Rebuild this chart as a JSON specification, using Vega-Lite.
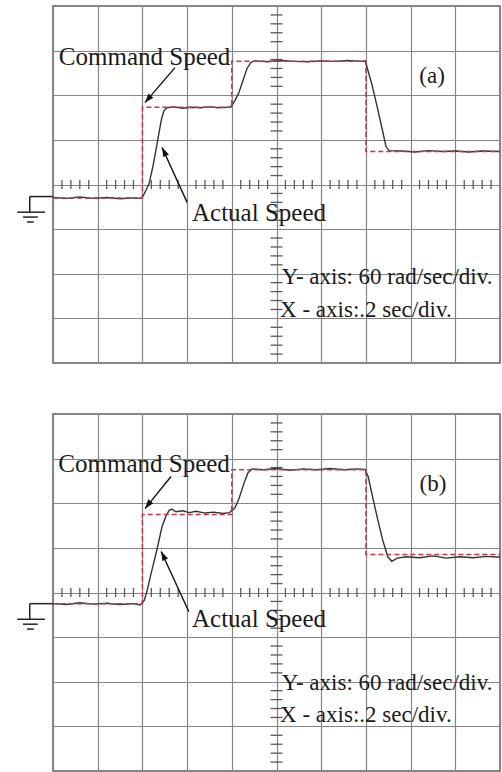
{
  "$schema": "https://vega.github.io/schema/vega-lite/v6.json",
  "background": "white",
  "padding": {"left": 15, "top": 5, "right": 4, "bottom": 1},
  "spacing": 51,
  "bounds": "flush",
  "config": {
    "view": {"stroke": "#5e5e5e", "strokeWidth": 1.5},
    "axis": {"labels": false, "ticks": false, "domain": false, "title": null, "grid": true, "gridColor": "#858585", "gridWidth": 1.2, "gridOpacity": 1}
  },
  "datasets": {
    "traces": [
      {"panel": "a", "series": "Command", "i": 0, "t": 0, "v": -0.3},
      {"panel": "a", "series": "Command", "i": 1, "t": 2, "v": -0.3},
      {"panel": "a", "series": "Command", "i": 2, "t": 2, "v": 1.73},
      {"panel": "a", "series": "Command", "i": 3, "t": 4, "v": 1.73},
      {"panel": "a", "series": "Command", "i": 4, "t": 4, "v": 2.76},
      {"panel": "a", "series": "Command", "i": 5, "t": 7, "v": 2.76},
      {"panel": "a", "series": "Command", "i": 6, "t": 7, "v": 0.74},
      {"panel": "a", "series": "Command", "i": 7, "t": 10, "v": 0.74},

      {"panel": "a", "series": "Actual", "i": 0, "t": 0, "v": -0.29},
      {"panel": "a", "series": "Actual", "i": 1, "t": 0.3, "v": -0.31},
      {"panel": "a", "series": "Actual", "i": 2, "t": 0.6, "v": -0.28},
      {"panel": "a", "series": "Actual", "i": 3, "t": 0.9, "v": -0.31},
      {"panel": "a", "series": "Actual", "i": 4, "t": 1.2, "v": -0.29},
      {"panel": "a", "series": "Actual", "i": 5, "t": 1.5, "v": -0.32},
      {"panel": "a", "series": "Actual", "i": 6, "t": 1.8, "v": -0.3},
      {"panel": "a", "series": "Actual", "i": 7, "t": 1.95, "v": -0.31},
      {"panel": "a", "series": "Actual", "i": 8, "t": 2.01, "v": -0.27},
      {"panel": "a", "series": "Actual", "i": 9, "t": 2.08, "v": -0.13},
      {"panel": "a", "series": "Actual", "i": 10, "t": 2.15, "v": 0.02},
      {"panel": "a", "series": "Actual", "i": 11, "t": 2.24, "v": 0.43},
      {"panel": "a", "series": "Actual", "i": 12, "t": 2.33, "v": 0.92},
      {"panel": "a", "series": "Actual", "i": 13, "t": 2.42, "v": 1.43},
      {"panel": "a", "series": "Actual", "i": 14, "t": 2.48, "v": 1.65},
      {"panel": "a", "series": "Actual", "i": 15, "t": 2.55, "v": 1.72},
      {"panel": "a", "series": "Actual", "i": 16, "t": 2.7, "v": 1.74},
      {"panel": "a", "series": "Actual", "i": 17, "t": 2.9, "v": 1.71},
      {"panel": "a", "series": "Actual", "i": 18, "t": 3.1, "v": 1.73},
      {"panel": "a", "series": "Actual", "i": 19, "t": 3.3, "v": 1.72},
      {"panel": "a", "series": "Actual", "i": 20, "t": 3.5, "v": 1.74},
      {"panel": "a", "series": "Actual", "i": 21, "t": 3.7, "v": 1.72},
      {"panel": "a", "series": "Actual", "i": 22, "t": 3.9, "v": 1.73},
      {"panel": "a", "series": "Actual", "i": 23, "t": 3.98, "v": 1.74},
      {"panel": "a", "series": "Actual", "i": 24, "t": 4.07, "v": 1.88},
      {"panel": "a", "series": "Actual", "i": 25, "t": 4.16, "v": 2.06},
      {"panel": "a", "series": "Actual", "i": 26, "t": 4.25, "v": 2.33},
      {"panel": "a", "series": "Actual", "i": 27, "t": 4.34, "v": 2.6},
      {"panel": "a", "series": "Actual", "i": 28, "t": 4.43, "v": 2.74},
      {"panel": "a", "series": "Actual", "i": 29, "t": 4.52, "v": 2.77},
      {"panel": "a", "series": "Actual", "i": 30, "t": 4.8, "v": 2.75},
      {"panel": "a", "series": "Actual", "i": 31, "t": 5.1, "v": 2.78},
      {"panel": "a", "series": "Actual", "i": 32, "t": 5.4, "v": 2.76},
      {"panel": "a", "series": "Actual", "i": 33, "t": 5.7, "v": 2.75},
      {"panel": "a", "series": "Actual", "i": 34, "t": 6.0, "v": 2.77},
      {"panel": "a", "series": "Actual", "i": 35, "t": 6.3, "v": 2.76},
      {"panel": "a", "series": "Actual", "i": 36, "t": 6.6, "v": 2.78},
      {"panel": "a", "series": "Actual", "i": 37, "t": 6.9, "v": 2.76},
      {"panel": "a", "series": "Actual", "i": 38, "t": 6.98, "v": 2.77},
      {"panel": "a", "series": "Actual", "i": 39, "t": 7.02, "v": 2.65},
      {"panel": "a", "series": "Actual", "i": 40, "t": 7.14, "v": 2.22},
      {"panel": "a", "series": "Actual", "i": 41, "t": 7.25, "v": 1.75},
      {"panel": "a", "series": "Actual", "i": 42, "t": 7.36, "v": 1.26},
      {"panel": "a", "series": "Actual", "i": 43, "t": 7.45, "v": 0.85},
      {"panel": "a", "series": "Actual", "i": 44, "t": 7.52, "v": 0.76},
      {"panel": "a", "series": "Actual", "i": 45, "t": 7.8, "v": 0.75},
      {"panel": "a", "series": "Actual", "i": 46, "t": 8.1, "v": 0.73},
      {"panel": "a", "series": "Actual", "i": 47, "t": 8.4, "v": 0.76},
      {"panel": "a", "series": "Actual", "i": 48, "t": 8.7, "v": 0.74},
      {"panel": "a", "series": "Actual", "i": 49, "t": 9.0, "v": 0.75},
      {"panel": "a", "series": "Actual", "i": 50, "t": 9.3, "v": 0.73},
      {"panel": "a", "series": "Actual", "i": 51, "t": 9.6, "v": 0.75},
      {"panel": "a", "series": "Actual", "i": 52, "t": 10, "v": 0.74},

      {"panel": "b", "series": "Command", "i": 0, "t": 0, "v": -0.25},
      {"panel": "b", "series": "Command", "i": 1, "t": 2, "v": -0.25},
      {"panel": "b", "series": "Command", "i": 2, "t": 2, "v": 1.75},
      {"panel": "b", "series": "Command", "i": 3, "t": 4, "v": 1.75},
      {"panel": "b", "series": "Command", "i": 4, "t": 4, "v": 2.75},
      {"panel": "b", "series": "Command", "i": 5, "t": 7, "v": 2.75},
      {"panel": "b", "series": "Command", "i": 6, "t": 7, "v": 0.85},
      {"panel": "b", "series": "Command", "i": 7, "t": 10, "v": 0.85},

      {"panel": "b", "series": "Actual", "i": 0, "t": 0, "v": -0.25},
      {"panel": "b", "series": "Actual", "i": 1, "t": 0.3, "v": -0.27},
      {"panel": "b", "series": "Actual", "i": 2, "t": 0.6, "v": -0.23},
      {"panel": "b", "series": "Actual", "i": 3, "t": 0.9, "v": -0.26},
      {"panel": "b", "series": "Actual", "i": 4, "t": 1.2, "v": -0.24},
      {"panel": "b", "series": "Actual", "i": 5, "t": 1.5, "v": -0.27},
      {"panel": "b", "series": "Actual", "i": 6, "t": 1.8, "v": -0.25},
      {"panel": "b", "series": "Actual", "i": 7, "t": 1.95, "v": -0.28},
      {"panel": "b", "series": "Actual", "i": 8, "t": 2.04, "v": -0.18},
      {"panel": "b", "series": "Actual", "i": 9, "t": 2.1, "v": 0.02},
      {"panel": "b", "series": "Actual", "i": 10, "t": 2.21, "v": 0.49},
      {"panel": "b", "series": "Actual", "i": 11, "t": 2.33, "v": 0.98},
      {"panel": "b", "series": "Actual", "i": 12, "t": 2.44, "v": 1.48},
      {"panel": "b", "series": "Actual", "i": 13, "t": 2.53, "v": 1.72},
      {"panel": "b", "series": "Actual", "i": 14, "t": 2.6, "v": 1.84},
      {"panel": "b", "series": "Actual", "i": 15, "t": 2.66, "v": 1.87},
      {"panel": "b", "series": "Actual", "i": 16, "t": 2.75, "v": 1.81},
      {"panel": "b", "series": "Actual", "i": 17, "t": 2.9, "v": 1.83},
      {"panel": "b", "series": "Actual", "i": 18, "t": 3.05, "v": 1.79},
      {"panel": "b", "series": "Actual", "i": 19, "t": 3.2, "v": 1.82},
      {"panel": "b", "series": "Actual", "i": 20, "t": 3.4, "v": 1.78},
      {"panel": "b", "series": "Actual", "i": 21, "t": 3.6, "v": 1.8},
      {"panel": "b", "series": "Actual", "i": 22, "t": 3.8, "v": 1.77},
      {"panel": "b", "series": "Actual", "i": 23, "t": 3.95, "v": 1.79},
      {"panel": "b", "series": "Actual", "i": 24, "t": 4.07, "v": 1.9},
      {"panel": "b", "series": "Actual", "i": 25, "t": 4.16, "v": 2.1},
      {"panel": "b", "series": "Actual", "i": 26, "t": 4.27, "v": 2.44},
      {"panel": "b", "series": "Actual", "i": 27, "t": 4.36, "v": 2.68},
      {"panel": "b", "series": "Actual", "i": 28, "t": 4.45, "v": 2.77},
      {"panel": "b", "series": "Actual", "i": 29, "t": 4.7, "v": 2.75},
      {"panel": "b", "series": "Actual", "i": 30, "t": 5.0, "v": 2.78},
      {"panel": "b", "series": "Actual", "i": 31, "t": 5.3, "v": 2.74},
      {"panel": "b", "series": "Actual", "i": 32, "t": 5.6, "v": 2.77},
      {"panel": "b", "series": "Actual", "i": 33, "t": 5.9, "v": 2.75},
      {"panel": "b", "series": "Actual", "i": 34, "t": 6.2, "v": 2.78},
      {"panel": "b", "series": "Actual", "i": 35, "t": 6.5, "v": 2.75},
      {"panel": "b", "series": "Actual", "i": 36, "t": 6.8, "v": 2.77},
      {"panel": "b", "series": "Actual", "i": 37, "t": 6.98, "v": 2.76},
      {"panel": "b", "series": "Actual", "i": 38, "t": 7.05, "v": 2.6},
      {"panel": "b", "series": "Actual", "i": 39, "t": 7.16, "v": 2.1},
      {"panel": "b", "series": "Actual", "i": 40, "t": 7.27, "v": 1.61},
      {"panel": "b", "series": "Actual", "i": 41, "t": 7.38, "v": 1.16},
      {"panel": "b", "series": "Actual", "i": 42, "t": 7.49, "v": 0.8},
      {"panel": "b", "series": "Actual", "i": 43, "t": 7.58, "v": 0.7},
      {"panel": "b", "series": "Actual", "i": 44, "t": 7.7, "v": 0.77},
      {"panel": "b", "series": "Actual", "i": 45, "t": 7.9, "v": 0.8},
      {"panel": "b", "series": "Actual", "i": 46, "t": 8.2, "v": 0.78},
      {"panel": "b", "series": "Actual", "i": 47, "t": 8.5, "v": 0.82},
      {"panel": "b", "series": "Actual", "i": 48, "t": 8.8, "v": 0.77},
      {"panel": "b", "series": "Actual", "i": 49, "t": 9.1, "v": 0.8},
      {"panel": "b", "series": "Actual", "i": 50, "t": 9.4, "v": 0.78},
      {"panel": "b", "series": "Actual", "i": 51, "t": 9.7, "v": 0.81},
      {"panel": "b", "series": "Actual", "i": 52, "t": 10, "v": 0.79}
    ],
    "minor_x": [
      {"t": 0.2, "v": 0}, {"t": 0.4, "v": 0}, {"t": 0.6, "v": 0}, {"t": 0.8, "v": 0},
      {"t": 1.2, "v": 0}, {"t": 1.4, "v": 0}, {"t": 1.6, "v": 0}, {"t": 1.8, "v": 0},
      {"t": 2.2, "v": 0}, {"t": 2.4, "v": 0}, {"t": 2.6, "v": 0}, {"t": 2.8, "v": 0},
      {"t": 3.2, "v": 0}, {"t": 3.4, "v": 0}, {"t": 3.6, "v": 0}, {"t": 3.8, "v": 0},
      {"t": 4.2, "v": 0}, {"t": 4.4, "v": 0}, {"t": 4.6, "v": 0}, {"t": 4.8, "v": 0},
      {"t": 5.2, "v": 0}, {"t": 5.4, "v": 0}, {"t": 5.6, "v": 0}, {"t": 5.8, "v": 0},
      {"t": 6.2, "v": 0}, {"t": 6.4, "v": 0}, {"t": 6.6, "v": 0}, {"t": 6.8, "v": 0},
      {"t": 7.2, "v": 0}, {"t": 7.4, "v": 0}, {"t": 7.6, "v": 0}, {"t": 7.8, "v": 0},
      {"t": 8.2, "v": 0}, {"t": 8.4, "v": 0}, {"t": 8.6, "v": 0}, {"t": 8.8, "v": 0},
      {"t": 9.2, "v": 0}, {"t": 9.4, "v": 0}, {"t": 9.6, "v": 0}, {"t": 9.8, "v": 0}
    ],
    "minor_y": [
      {"t": 5, "v": -3.8}, {"t": 5, "v": -3.6}, {"t": 5, "v": -3.4}, {"t": 5, "v": -3.2},
      {"t": 5, "v": -2.8}, {"t": 5, "v": -2.6}, {"t": 5, "v": -2.4}, {"t": 5, "v": -2.2},
      {"t": 5, "v": -1.8}, {"t": 5, "v": -1.6}, {"t": 5, "v": -1.4}, {"t": 5, "v": -1.2},
      {"t": 5, "v": -0.8}, {"t": 5, "v": -0.6}, {"t": 5, "v": -0.4}, {"t": 5, "v": -0.2},
      {"t": 5, "v": 0.2}, {"t": 5, "v": 0.4}, {"t": 5, "v": 0.6}, {"t": 5, "v": 0.8},
      {"t": 5, "v": 1.2}, {"t": 5, "v": 1.4}, {"t": 5, "v": 1.6}, {"t": 5, "v": 1.8},
      {"t": 5, "v": 2.2}, {"t": 5, "v": 2.4}, {"t": 5, "v": 2.6}, {"t": 5, "v": 2.8},
      {"t": 5, "v": 3.2}, {"t": 5, "v": 3.4}, {"t": 5, "v": 3.6}, {"t": 5, "v": 3.8}
    ],
    "labels": [
      {"panel": "a", "kind": "name", "text": "Command Speed", "t": 0.13, "v": 2.67},
      {"panel": "a", "kind": "name", "text": "Actual Speed", "t": 3.11, "v": -0.81},
      {"panel": "a", "kind": "note", "text": "Y- axis: 60 rad/sec/div.", "t": 5.12, "v": -2.22},
      {"panel": "a", "kind": "note", "text": "X - axis:.2 sec/div.", "t": 5.08, "v": -2.98},
      {"panel": "a", "kind": "tag", "text": "(a)", "t": 8.48, "v": 2.44},
      {"panel": "b", "kind": "name", "text": "Command Speed", "t": 0.12, "v": 2.7},
      {"panel": "b", "kind": "name", "text": "Actual Speed", "t": 3.11, "v": -0.78},
      {"panel": "b", "kind": "note", "text": "Y- axis: 60 rad/sec/div.", "t": 5.12, "v": -2.19},
      {"panel": "b", "kind": "note", "text": "X - axis:.2 sec/div.", "t": 5.08, "v": -2.91},
      {"panel": "b", "kind": "tag", "text": "(b)", "t": 8.5, "v": 2.44}
    ],
    "arrows": [
      {"panel": "a", "arrow": "command", "t": 2.73, "v": 2.62, "t2": 2.06, "v2": 1.84},
      {"panel": "a", "arrow": "actual", "t": 3.0, "v": -0.4, "t2": 2.44, "v2": 0.83},
      {"panel": "b", "arrow": "command", "t": 2.64, "v": 2.6, "t2": 2.06, "v2": 1.88},
      {"panel": "b", "arrow": "actual", "t": 3.04, "v": -0.43, "t2": 2.42, "v2": 0.92}
    ],
    "heads": [
      {"panel": "a", "arrow": "command", "t": 2.13, "v": 1.92},
      {"panel": "a", "arrow": "actual", "t": 2.49, "v": 0.73},
      {"panel": "b", "arrow": "command", "t": 2.13, "v": 1.97},
      {"panel": "b", "arrow": "actual", "t": 2.47, "v": 0.82}
    ],
    "ground": [
      {"panel": "a", "t": -0.52, "v": -0.27, "t2": 0, "v2": -0.27},
      {"panel": "a", "t": -0.52, "v": -0.27, "t2": -0.52, "v2": -0.62},
      {"panel": "a", "t": -0.8, "v": -0.62, "t2": -0.18, "v2": -0.62},
      {"panel": "a", "t": -0.67, "v": -0.73, "t2": -0.34, "v2": -0.73},
      {"panel": "a", "t": -0.58, "v": -0.84, "t2": -0.43, "v2": -0.84},
      {"panel": "b", "t": -0.52, "v": -0.25, "t2": 0, "v2": -0.25},
      {"panel": "b", "t": -0.52, "v": -0.25, "t2": -0.52, "v2": -0.6},
      {"panel": "b", "t": -0.8, "v": -0.6, "t2": -0.18, "v2": -0.6},
      {"panel": "b", "t": -0.67, "v": -0.71, "t2": -0.34, "v2": -0.71},
      {"panel": "b", "t": -0.58, "v": -0.82, "t2": -0.43, "v2": -0.82}
    ]
  },
  "vconcat": [
    {
      "width": 447,
      "height": 357,
      "encoding": {
        "x": {"field": "t", "type": "quantitative", "scale": {"domain": [0, 10], "nice": false, "zero": false}, "axis": {"values": [0, 1, 2, 3, 4, 5, 6, 7, 8, 9, 10]}},
        "y": {"field": "v", "type": "quantitative", "scale": {"domain": [-4, 4], "nice": false, "zero": false}, "axis": {"values": [-4, -3, -2, -1, 0, 1, 2, 3, 4]}}
      },
      "layer": [
        {
          "data": {"name": "minor_x"},
          "mark": {"type": "tick", "orient": "vertical", "color": "#5a5a5a", "size": 9, "thickness": 1.3, "opacity": 1}
        },
        {
          "data": {"name": "minor_y"},
          "mark": {"type": "tick", "orient": "horizontal", "color": "#5a5a5a", "size": 12, "thickness": 1.3, "opacity": 1}
        },
        {
          "data": {"name": "traces"},
          "transform": [{"filter": "datum.panel === 'a' && datum.series === 'Actual'"}],
          "mark": {"type": "line", "color": "#333333", "strokeWidth": 1.4},
          "encoding": {"order": {"field": "i", "type": "quantitative"}}
        },
        {
          "data": {"name": "traces"},
          "transform": [{"filter": "datum.panel === 'a' && datum.series === 'Command'"}],
          "mark": {"type": "line", "color": "#cc3344", "strokeWidth": 1.5, "strokeDash": [5, 3]},
          "encoding": {"order": {"field": "i", "type": "quantitative"}}
        },
        {
          "data": {"name": "ground"},
          "transform": [{"filter": "datum.panel === 'a'"}],
          "mark": {"type": "rule", "color": "#222222", "strokeWidth": 1.5},
          "encoding": {"x2": {"field": "t2"}, "y2": {"field": "v2"}}
        },
        {
          "data": {"name": "arrows"},
          "transform": [{"filter": "datum.panel === 'a'"}],
          "mark": {"type": "rule", "color": "#111111", "strokeWidth": 1.4},
          "encoding": {"x2": {"field": "t2"}, "y2": {"field": "v2"}}
        },
        {
          "data": {"name": "heads"},
          "transform": [{"filter": "datum.panel === 'a' && datum.arrow === 'command'"}],
          "mark": {"type": "point", "shape": "M0,-1L0.6,0.8L-0.6,0.8Z", "filled": true, "color": "#111111", "opacity": 1, "size": 110, "angle": 220}
        },
        {
          "data": {"name": "heads"},
          "transform": [{"filter": "datum.panel === 'a' && datum.arrow === 'actual'"}],
          "mark": {"type": "point", "shape": "M0,-1L0.6,0.8L-0.6,0.8Z", "filled": true, "color": "#111111", "opacity": 1, "size": 110, "angle": 335}
        },
        {
          "data": {"name": "labels"},
          "transform": [{"filter": "datum.panel === 'a' && datum.kind === 'name'"}],
          "mark": {"type": "text", "align": "left", "baseline": "alphabetic", "font": "Liberation Serif", "fontSize": 25, "color": "#1a1a1a"},
          "encoding": {"text": {"field": "text"}}
        },
        {
          "data": {"name": "labels"},
          "transform": [{"filter": "datum.panel === 'a' && datum.kind === 'note'"}],
          "mark": {"type": "text", "align": "left", "baseline": "alphabetic", "font": "Liberation Serif", "fontSize": 23, "color": "#1a1a1a"},
          "encoding": {"text": {"field": "text"}}
        },
        {
          "data": {"name": "labels"},
          "transform": [{"filter": "datum.panel === 'a' && datum.kind === 'tag'"}],
          "mark": {"type": "text", "align": "center", "baseline": "middle", "font": "Liberation Serif", "fontSize": 23, "color": "#1a1a1a"},
          "encoding": {"text": {"field": "text"}}
        }
      ]
    },
    {
      "width": 447,
      "height": 357,
      "encoding": {
        "x": {"field": "t", "type": "quantitative", "scale": {"domain": [0, 10], "nice": false, "zero": false}, "axis": {"values": [0, 1, 2, 3, 4, 5, 6, 7, 8, 9, 10]}},
        "y": {"field": "v", "type": "quantitative", "scale": {"domain": [-4, 4], "nice": false, "zero": false}, "axis": {"values": [-4, -3, -2, -1, 0, 1, 2, 3, 4]}}
      },
      "layer": [
        {
          "data": {"name": "minor_x"},
          "mark": {"type": "tick", "orient": "vertical", "color": "#5a5a5a", "size": 9, "thickness": 1.3, "opacity": 1}
        },
        {
          "data": {"name": "minor_y"},
          "mark": {"type": "tick", "orient": "horizontal", "color": "#5a5a5a", "size": 12, "thickness": 1.3, "opacity": 1}
        },
        {
          "data": {"name": "traces"},
          "transform": [{"filter": "datum.panel === 'b' && datum.series === 'Actual'"}],
          "mark": {"type": "line", "color": "#333333", "strokeWidth": 1.4},
          "encoding": {"order": {"field": "i", "type": "quantitative"}}
        },
        {
          "data": {"name": "traces"},
          "transform": [{"filter": "datum.panel === 'b' && datum.series === 'Command'"}],
          "mark": {"type": "line", "color": "#cc3344", "strokeWidth": 1.5, "strokeDash": [5, 3]},
          "encoding": {"order": {"field": "i", "type": "quantitative"}}
        },
        {
          "data": {"name": "ground"},
          "transform": [{"filter": "datum.panel === 'b'"}],
          "mark": {"type": "rule", "color": "#222222", "strokeWidth": 1.5},
          "encoding": {"x2": {"field": "t2"}, "y2": {"field": "v2"}}
        },
        {
          "data": {"name": "arrows"},
          "transform": [{"filter": "datum.panel === 'b'"}],
          "mark": {"type": "rule", "color": "#111111", "strokeWidth": 1.4},
          "encoding": {"x2": {"field": "t2"}, "y2": {"field": "v2"}}
        },
        {
          "data": {"name": "heads"},
          "transform": [{"filter": "datum.panel === 'b' && datum.arrow === 'command'"}],
          "mark": {"type": "point", "shape": "M0,-1L0.6,0.8L-0.6,0.8Z", "filled": true, "color": "#111111", "opacity": 1, "size": 110, "angle": 217}
        },
        {
          "data": {"name": "heads"},
          "transform": [{"filter": "datum.panel === 'b' && datum.arrow === 'actual'"}],
          "mark": {"type": "point", "shape": "M0,-1L0.6,0.8L-0.6,0.8Z", "filled": true, "color": "#111111", "opacity": 1, "size": 110, "angle": 335}
        },
        {
          "data": {"name": "labels"},
          "transform": [{"filter": "datum.panel === 'b' && datum.kind === 'name'"}],
          "mark": {"type": "text", "align": "left", "baseline": "alphabetic", "font": "Liberation Serif", "fontSize": 25, "color": "#1a1a1a"},
          "encoding": {"text": {"field": "text"}}
        },
        {
          "data": {"name": "labels"},
          "transform": [{"filter": "datum.panel === 'b' && datum.kind === 'note'"}],
          "mark": {"type": "text", "align": "left", "baseline": "alphabetic", "font": "Liberation Serif", "fontSize": 23, "color": "#1a1a1a"},
          "encoding": {"text": {"field": "text"}}
        },
        {
          "data": {"name": "labels"},
          "transform": [{"filter": "datum.panel === 'b' && datum.kind === 'tag'"}],
          "mark": {"type": "text", "align": "center", "baseline": "middle", "font": "Liberation Serif", "fontSize": 23, "color": "#1a1a1a"},
          "encoding": {"text": {"field": "text"}}
        }
      ]
    }
  ]
}
